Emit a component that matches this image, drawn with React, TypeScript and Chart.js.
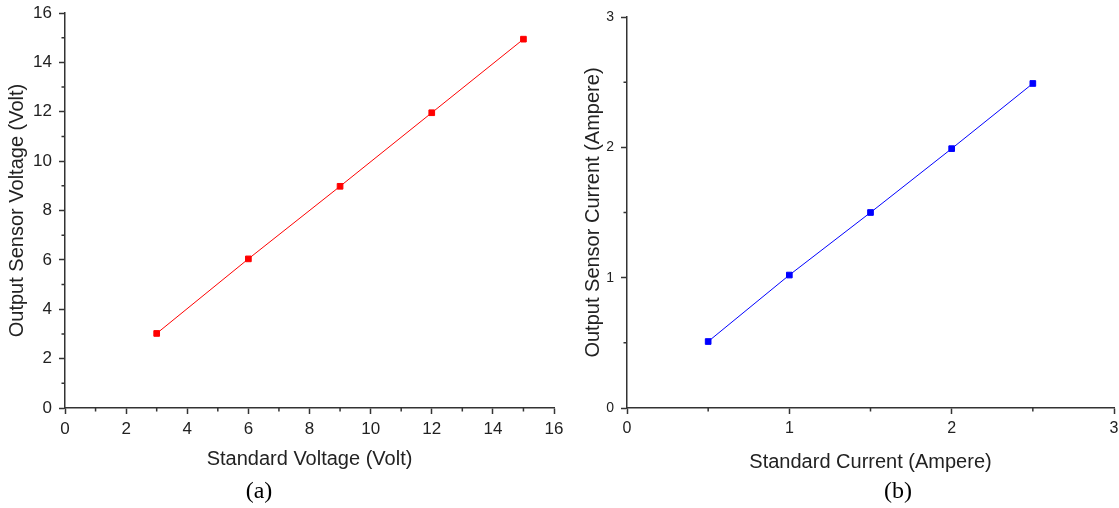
import React, { useEffect, useRef } from "react";
import { Chart, registerables } from "chart.js";
Chart.register(...registerables);

const voltX = [3, 6, 9, 12, 15];
const voltY = [3.02, 6.04, 8.98, 11.96, 14.94];
const currX = [0.5, 1.0, 1.5, 2.0, 2.5];
const currY = [0.51, 1.02, 1.5, 1.99, 2.49];

const voltMinor = [1, 3, 5, 7, 9, 11, 13, 15];
const currMinor = [0.5, 1.5, 2.5];

const AXIS = "#333333";
const TEXT = "#222222";
const SANS = "'Liberation Sans', Arial, sans-serif";

const minorTicks = (minorX: number[], minorY: number[]) => ({
  id: "minorTicks",
  afterDraw(chart: any) {
    const ctx = chart.ctx;
    const xs = chart.scales.x;
    const ys = chart.scales.y;
    const ca = chart.chartArea;
    ctx.save();
    ctx.strokeStyle = AXIS;
    ctx.lineWidth = 1.5;
    ctx.beginPath();
    minorX.forEach((v) => {
      const px = xs.getPixelForValue(v);
      ctx.moveTo(px, ca.bottom);
      ctx.lineTo(px, ca.bottom + 3.5);
    });
    minorY.forEach((v) => {
      const py = ys.getPixelForValue(v);
      ctx.moveTo(ca.left, py);
      ctx.lineTo(ca.left - 3.5, py);
    });
    ctx.stroke();
    ctx.restore();
  },
});

function makeConfig(opts: any) {
  const common = {
    border: { display: true, color: AXIS, width: 1.5 },
    grid: {
      display: true,
      drawOnChartArea: false,
      drawTicks: true,
      tickLength: 6,
      tickColor: AXIS,
      tickWidth: 1.5,
    },
  };
  const titleFont = { family: SANS, size: 20 };
  return {
    type: "line" as const,
    data: {
      datasets: [
        {
          data: opts.xs.map((x: number, i: number) => ({ x, y: opts.ys[i] })),
          borderColor: opts.color,
          backgroundColor: opts.color,
          borderWidth: 1,
          pointStyle: "rect" as const,
          pointRadius: 4,
          pointHoverRadius: 4,
          tension: 0,
        },
      ],
    },
    options: {
      responsive: false,
      animation: false as const,
      maintainAspectRatio: false,
      layout: { padding: { top: opts.padTop, right: opts.padRight, left: 0, bottom: 0 } },
      plugins: { legend: { display: false }, tooltip: { enabled: false } },
      scales: {
        x: {
          type: "linear" as const,
          min: 0,
          max: opts.xMax,
          ...common,
          ticks: { stepSize: opts.step, color: TEXT, font: { family: SANS, size: opts.xTickSize }, padding: 5, maxRotation: 0 },
          title: {
            display: true,
            text: opts.xTitle,
            color: TEXT,
            font: titleFont,
            padding: { top: 0, bottom: opts.xTitlePadBottom },
          },
          afterFit: (s: any) => {
            s.height = 72;
            s.paddingLeft = 0;
            s.paddingRight = 0;
          },
        },
        y: {
          type: "linear" as const,
          min: 0,
          max: opts.yMax,
          ...common,
          ticks: { stepSize: opts.step, color: TEXT, font: { family: SANS, size: opts.yTickSize }, padding: 7 },
          title: {
            display: true,
            text: opts.yTitle,
            color: TEXT,
            font: titleFont,
            padding: { top: opts.yTitlePadTop, bottom: 0 },
          },
          afterFit: (s: any) => {
            s.width = opts.yWidth;
            s.paddingTop = 0;
            s.paddingBottom = 0;
          },
        },
      },
    },
    plugins: [minorTicks(opts.minorX, opts.minorY)],
  };
}

function Panel(props: { cfg: any; left: number; width: number; height: number }) {
  const ref = useRef<HTMLCanvasElement>(null);
  useEffect(() => {
    const chart = new Chart(ref.current as HTMLCanvasElement, props.cfg);
    return () => chart.destroy();
  }, []);
  return (
    <canvas
      ref={ref}
      width={props.width}
      height={props.height}
      style={{ position: "absolute", left: props.left, top: 0, width: props.width, height: props.height }}
    />
  );
}

export default function App() {
  const cfgA = makeConfig({
    xs: voltX,
    ys: voltY,
    color: "#ff0000",
    xMax: 16,
    yMax: 16,
    step: 2,
    xTitle: "Standard Voltage (Volt)",
    yTitle: "Output Sensor Voltage (Volt)",
    yWidth: 65,
    padTop: 13,
    padRight: 11,
    minorX: voltMinor,
    minorY: voltMinor,
    xTickSize: 17,
    yTickSize: 17,
    xTitlePadBottom: 9,
    yTitlePadTop: 5,
  });
  const cfgB = makeConfig({
    xs: currX,
    ys: currY,
    color: "#0000ff",
    xMax: 3,
    yMax: 3,
    step: 1,
    xTitle: "Standard Current (Ampere)",
    yTitle: "Output Sensor Current (Ampere)",
    yWidth: 57,
    padTop: 17,
    padRight: 4,
    minorX: currMinor,
    minorY: currMinor,
    xTickSize: 16,
    yTickSize: 14,
    xTitlePadBottom: 6,
    yTitlePadTop: 11,
  });
  const capStyle: React.CSSProperties = {
    position: "absolute",
    width: 80,
    top: 475,
    textAlign: "center",
    fontFamily: "'Liberation Serif', 'Times New Roman', serif",
    fontSize: 24,
    color: "#000",
    lineHeight: "30px",
  };
  return (
    <div style={{ position: "absolute", left: 0, top: 0, width: 1119, height: 508, background: "#fff", overflow: "hidden" }}>
      <Panel cfg={cfgA} left={0} width={565} height={480} />
      <Panel cfg={cfgB} left={570} width={549} height={480} />
      <div style={{ ...capStyle, left: 219 }}>(a)</div>
      <div style={{ ...capStyle, left: 858 }}>(b)</div>
    </div>
  );
}
